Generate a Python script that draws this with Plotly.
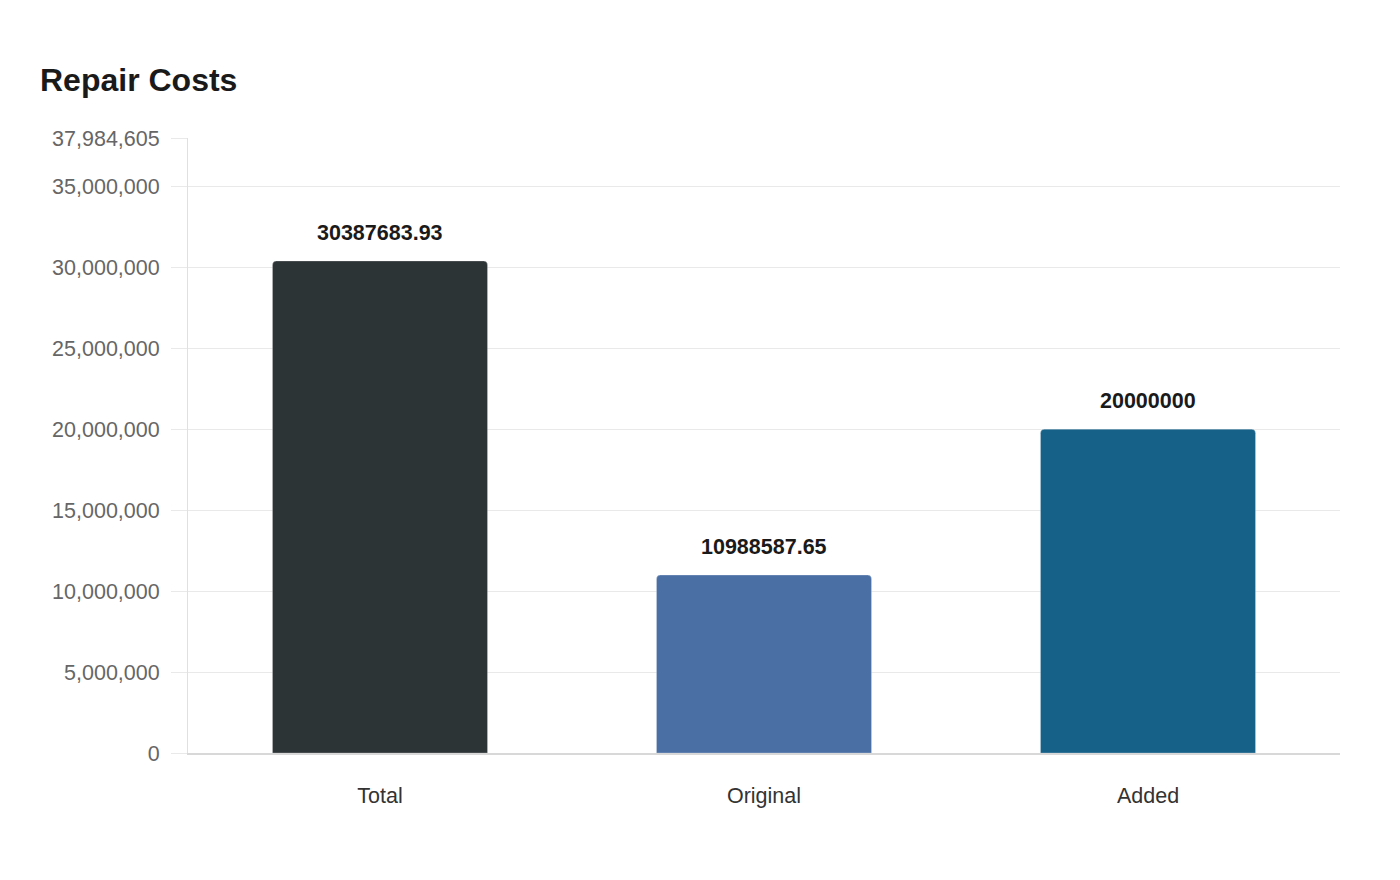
import plotly.graph_objects as go

# --- Data ---
categories = ["Total", "Original", "Added"]
costs = [30387683.93, 10988587.65, 20000000]
label_texts = ["30387683.93", "10988587.65", "20000000"]
bar_colors = ["#2d3436", "#4a6fa5", "#166187"]
y_max = 37984605
y_ticks = [0, 5000000, 10000000, 15000000, 20000000, 25000000, 30000000, 35000000, y_max]

FONT = "Liberation Sans, Arial, sans-serif"

fig = go.Figure()
fig.add_trace(go.Bar(
    x=categories, y=costs,
    marker=dict(color=bar_colors, cornerradius=4,
                line=dict(color="rgba(255,255,255,0.25)", width=1)),
    width=0.56,
    hoverinfo="x+y",
))

# value labels above bars
for cat, val, txt in zip(categories, costs, label_texts):
    fig.add_annotation(x=cat, y=val, text=f"<b>{txt}</b>", showarrow=False,
                       yanchor="bottom", yshift=14,
                       font=dict(family=FONT, size=21.5, color="#1a1a1a"))

# page has an 8px body margin, so the figure is offset by that much
fig.update_layout(
    title=dict(text="<b>Repair Costs</b>", x=32 / 1400, xanchor="left",
               y=1 - 72 / 880, yanchor="middle",
               font=dict(family=FONT, size=32, color="#1a1a1a")),
    width=1400, height=880,
    margin=dict(l=180, r=68, t=130, b=135),
    plot_bgcolor="white", paper_bgcolor="white",
    showlegend=False,
    font=dict(family=FONT),
)
fig.update_xaxes(showgrid=False, showline=True, linecolor="#d8d8d8", linewidth=2,
                 ticks="", ticklabelstandoff=22,
                 tickfont=dict(family=FONT, size=21.5, color="#333333"))
fig.update_yaxes(range=[0, y_max], tickvals=y_ticks,
                 ticktext=[f"{v:,}" for v in y_ticks],
                 showgrid=True, gridcolor="#e9e9e9", gridwidth=1,
                 showline=True, linecolor="#e0e0e0", linewidth=1,
                 ticks="outside", ticklen=16, tickcolor="#e9e9e9",
                 ticklabelstandoff=7, zeroline=False,
                 tickfont=dict(family=FONT, size=21.5, color="#666666"))

fig.write_html("out.html")
